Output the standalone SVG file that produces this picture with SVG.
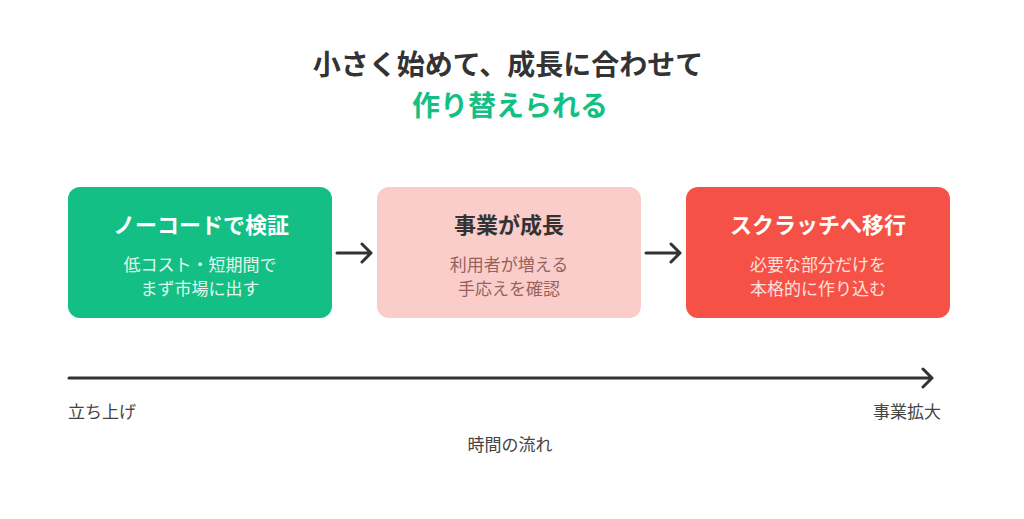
<svg xmlns="http://www.w3.org/2000/svg" width="1024" height="519" viewBox="0 0 1024 519">
<style>
text{font-family:"Noto Sans CJK JP","Noto Sans",sans-serif;}
.t1{font-size:28px;font-weight:700;fill:#333;text-anchor:middle;}
.t2{font-size:28px;font-weight:700;fill:#13bf84;text-anchor:middle;}
.nt{font-size:22px;font-weight:700;text-anchor:middle;}
.ns{font-size:17px;text-anchor:middle;}
.lb{font-size:17px;fill:#444;}
.conn{stroke:#333;stroke-width:3;fill:none;stroke-linecap:round;stroke-linejoin:round;}
</style>
<rect width="1024" height="519" fill="#fff"/>
<g id="title">
<text class="t1" x="508" y="75">小さく始めて、成長に合わせて</text>
<text class="t2" x="510" y="116">作り替えられる</text>
</g>
<g id="node1">
<rect x="68" y="187" width="264" height="131" rx="12" fill="#13bf84"/>
<text class="nt" x="201" y="233">
<tspan fill="#fff">ノーコードで検証</tspan></text>
<text class="ns" x="200" y="271" fill="#e3f7ee">低コスト・短期間で</text>
<text class="ns" x="200" y="295" fill="#e3f7ee">まず市場に出す</text>
</g>
<g id="node2">
<rect x="377" y="187" width="264" height="131" rx="12" fill="#facdca"/>
<text class="nt" x="509" y="233" fill="#333">事業が成長</text>
<text class="ns" x="509" y="271" fill="#97625e">利用者が増える</text>
<text class="ns" x="509" y="295" fill="#97625e">手応えを確認</text>
</g>
<g id="node3">
<rect x="686" y="187" width="264" height="131" rx="12" fill="#f55146"/>
<text class="nt" x="818" y="233" fill="#fff">スクラッチへ移行</text>
<text class="ns" x="818" y="271" fill="#fde0dd">必要な部分だけを</text>
<text class="ns" x="818" y="295" fill="#fde0dd">本格的に作り込む</text>
</g>
<g id="connectors">
<path class="conn" d="M337 253 H371 M362 244 L371 253 L362 262"/>
<path class="conn" d="M646 253 H680 M671 244 L680 253 L671 262"/>
<path class="conn" d="M69 378 H932 M923 369 L932 378 L923 387"/>
</g>
<g id="labels">
<text class="lb" x="68" y="418">立ち上げ</text>
<text class="lb" x="941" y="418" text-anchor="end">事業拡大</text>
<text class="lb" x="510" y="451" text-anchor="middle">時間の流れ</text>
</g>
</svg>
